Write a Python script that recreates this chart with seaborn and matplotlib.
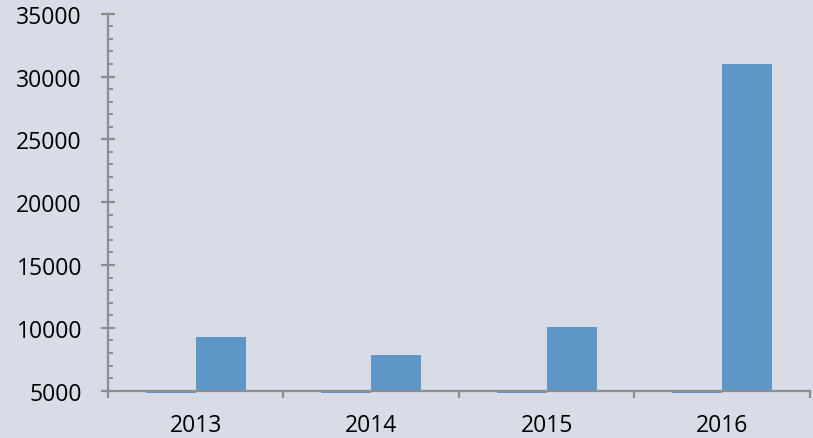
import matplotlib
matplotlib.use("Agg")
import matplotlib.pyplot as plt
from matplotlib.ticker import MultipleLocator, FixedLocator
import seaborn as sns
import pandas as pd

years = ["2013", "2014", "2015", "2016"]
series_a = [0, 0, 0, 0]          # below the 5000 axis floor, only a sliver shows
series_b = [9300, 7800, 10100, 31000]
axis_floor = 5000
y_ticks = [5000, 10000, 15000, 20000, 25000, 30000, 35000]

bg = "#d7dce6"
bar_color = "#5f96c8"
axis_color = "#8e8e8e"

sns.set_theme(style="white")
plt.rcParams["font.family"] = ["Open Sans", "DejaVu Sans"]

df = pd.DataFrame({
    "year": years * 2,
    "series": ["A"] * 4 + ["B"] * 4,
    "value": series_a + series_b,
})
df["height"] = df["value"] - axis_floor

fig = plt.figure(figsize=(8.13, 4.39), dpi=100, facecolor=bg)
ax = fig.add_axes([0.1328, 0.1035, 0.8635, 0.863])
ax.set_facecolor(bg)

sns.barplot(data=df, x="year", y="height", hue="series", order=years,
            palette=[bar_color, bar_color], saturation=1, width=0.57, gap=0,
            bottom=axis_floor, ax=ax, legend=False, errorbar=None,
            linewidth=0, edgecolor=bar_color)

ax.set_xlim(-0.5, len(years) - 0.5)
ax.set_ylim(axis_floor - 150, y_ticks[-1])
ax.set_xlabel("")
ax.set_ylabel("")

for side in ["top", "right"]:
    ax.spines[side].set_visible(False)
ax.spines["left"].set_color(axis_color)
ax.spines["bottom"].set_color(axis_color)
ax.spines["left"].set_linewidth(1.6)
ax.spines["bottom"].set_linewidth(1.6)
ax.spines["bottom"].set_position(("data", axis_floor))
ax.spines["left"].set_bounds(axis_floor, y_ticks[-1])

ax.yaxis.set_major_locator(FixedLocator(y_ticks))
ax.yaxis.set_minor_locator(MultipleLocator(1000))
ax.tick_params(axis="y", which="major", direction="inout", length=9.5, width=1.6,
               color=axis_color, labelsize=16.5, pad=14, left=True, labelcolor="black")
ax.tick_params(axis="y", which="minor", direction="in", length=3.8, width=1.4,
               color=axis_color, left=True)

ax.set_xticks(range(len(years)))
ax.set_xticklabels(years)
ax.xaxis.set_minor_locator(FixedLocator([i - 0.5 for i in range(len(years) + 1)]))
ax.tick_params(axis="x", which="major", length=0, labelsize=16.5, pad=16,
               bottom=True, labelcolor="black")
ax.tick_params(axis="x", which="minor", direction="out", length=5, width=1.6,
               color=axis_color, bottom=True)

fig.savefig("out.png", dpi=100, facecolor=bg)
